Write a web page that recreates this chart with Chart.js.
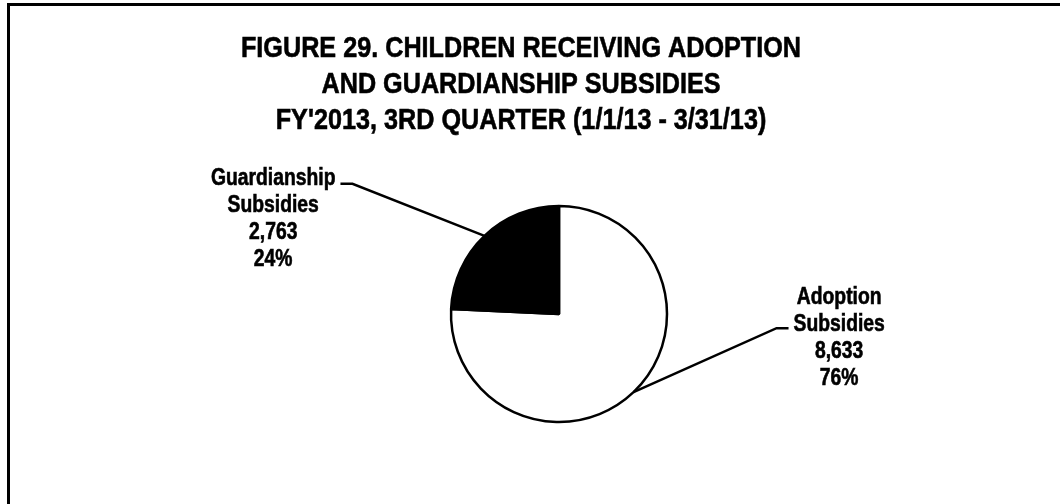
<!DOCTYPE html>
<html>
<head>
<meta charset="utf-8">
<title>Figure 29</title>
<script src="https://cdn.jsdelivr.net/npm/chart.js@4.4.0/dist/chart.umd.min.js"></script>
<style>
  html, body { margin: 0; padding: 0; background: #fff; overflow: hidden; }
  #marco { position: absolute; left: 7px; top: 3px; width: 1100px; height: 600px; border: 3px solid #000; box-sizing: border-box; }
  #grafica { position: absolute; left: 0; top: 0; }
</style>
</head>
<body>
<div id="marco"></div>
<canvas id="grafica" width="1060" height="504"></canvas>
<script>
// Datos de la figura
const titleLines = [
  "FIGURE 29. CHILDREN RECEIVING ADOPTION",
  "AND GUARDIANSHIP SUBSIDIES",
  "FY'2013, 3RD QUARTER (1/1/13 - 3/31/13)"
];
const categories = ["Adoption Subsidies", "Guardianship Subsidies"];
const children = [8633, 2763];
const sliceColors = ["#ffffff", "#000000"];

// Posición de las líneas guía: [dx, dy, lado, desplazamiento del texto]
const leaderLayout = [
  [143, -64, 1, -24],
  [-132, -52, -1, 1]
];

// No hay Arial Narrow: se comprime la fuente horizontalmente
const fuente = '"Liberation Sans", Arial, sans-serif';
const estrecho = 0.84;

function textoEstrecho(ctx, texto, x, y) {
  ctx.save();
  ctx.translate(x, y);
  ctx.scale(estrecho, 1);
  ctx.lineWidth = 0.6;
  ctx.strokeStyle = '#000';
  ctx.strokeText(texto, 0, 0);
  ctx.fillText(texto, 0, 0);
  ctx.restore();
}

// Título de la figura
const tituloFigura = {
  id: 'tituloFigura',
  afterDraw(chart) {
    const ctx = chart.ctx;
    ctx.save();
    ctx.font = 'bold 30px ' + fuente;
    ctx.fillStyle = '#000';
    ctx.textAlign = 'center';
    ctx.textBaseline = 'alphabetic';
    titleLines.forEach((t, i) => textoEstrecho(ctx, t, 521, 57 + i * 36));
    ctx.restore();
  }
};

// Etiquetas con líneas guía
const etiquetas = {
  id: 'etiquetas',
  afterDatasetsDraw(chart) {
    const ctx = chart.ctx;
    const meta = chart.getDatasetMeta(0);
    const total = children.reduce((a, b) => a + b, 0);
    ctx.save();
    meta.data.forEach((arc, i) => {
      const mid = (arc.startAngle + arc.endAngle) / 2;
      const ex = arc.x + Math.cos(mid) * arc.outerRadius;
      const ey = arc.y + Math.sin(mid) * arc.outerRadius;
      const [dx, dy, side, textDy] = leaderLayout[i];
      const bx = ex + dx, by = ey + dy;
      const tx = bx + side * 12;

      ctx.strokeStyle = '#000';
      ctx.lineWidth = 2.5;
      ctx.beginPath();
      ctx.moveTo(ex, ey);
      ctx.lineTo(bx, by);
      ctx.lineTo(tx, by);
      ctx.stroke();

      const lines = categories[i].split(' ').concat([
        children[i].toLocaleString('en-US'),
        Math.round(children[i] / total * 100) + '%'
      ]);
      ctx.font = 'bold 23px ' + fuente;
      const w = Math.max(...lines.map(l => ctx.measureText(l).width)) * estrecho;
      const cx = tx + side * (5 + w / 2);
      ctx.fillStyle = '#000';
      ctx.textAlign = 'center';
      ctx.textBaseline = 'alphabetic';
      lines.forEach((l, k) => textoEstrecho(ctx, l, cx, by + textDy + k * 27));
    });
    ctx.restore();
  }
};

new Chart(document.getElementById('grafica'), {
  type: 'pie',
  data: {
    labels: categories,
    datasets: [{
      data: children,
      backgroundColor: sliceColors,
      borderColor: '#000',
      borderWidth: 2.5,
      radius: 108
    }]
  },
  options: {
    responsive: false,
    animation: false,
    layout: { padding: { left: 300, right: 242, top: 200, bottom: 76 } },
    plugins: {
      legend: { display: false },
      tooltip: { enabled: false },
      title: { display: false }
    }
  },
  plugins: [etiquetas, tituloFigura]
});
</script>
</body>
</html>
